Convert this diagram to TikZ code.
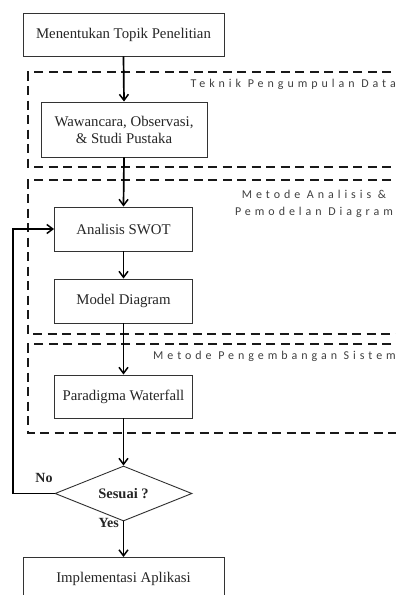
\documentclass[tikz,border=0pt]{standalone}
\usepackage{fontspec}
\setmainfont{Liberation Serif}
\newfontfamily\lblfont[LetterSpace=33]{Carlito}
\usetikzlibrary{arrows.meta,shapes.geometric}
\begin{document}
\begin{tikzpicture}[x=1pt,y=-1pt,
  box/.style={draw=black!80,line width=0.9pt,fill=white,minimum width=138pt,minimum height=44pt,inner sep=1pt,font=\fontsize{14.8}{17}\selectfont,align=center,text=black!85},
  arr/.style={line width=1.7pt,-{Straight Barb[length=6pt,width=9pt,line width=1.5pt]}},
  grp/.style={dash pattern=on 9pt off 5.5pt,line width=1.8pt,black!90},
  grplbl/.style={font=\lblfont\fontsize{12}{17}\selectfont,text=black!75,inner sep=0pt},
  lbl/.style={font=\bfseries\fontsize{14}{16}\selectfont,inner sep=0pt,text=black!85}]
\useasboundingbox (0,0) rectangle (396,595);
\fill[white] (0,0) rectangle (396,595);
% group frames
\draw[grp] (420,72) -- (28,72) -- (28,167) -- (420,167);
\draw[grp] (420,180) -- (28,180) -- (28,334) -- (420,334);
\draw[grp] (420,344) -- (28,344) -- (28,433) -- (420,433);
\node[grplbl,anchor=east] (g1) at (396,84) {Teknik Pengumpulan Data};
\node[grplbl,align=center] (g2) at (314,203.5) {Metode Analisis \&\\Pemodelan Diagram};
\node[grplbl,anchor=east] (g3) at (396,356) {Metode Pengembangan Sistem};
% nodes
\node[box,minimum width=201pt,minimum height=43pt] (b1) at (123.5,34.5) {Menentukan Topik Penelitian};
\node[box,minimum width=166pt,minimum height=55pt,align=center] (b2) at (124,129.5) {Wawancara, Observasi,\\\& Studi Pustaka};
\node[box] (b3) at (123.5,229) {Analisis SWOT};
\node[box] (b4) at (123.5,301) {Model Diagram};
\node[box,minimum height=43pt] (b5) at (123.5,396.5) {Paradigma Waterfall};
\node[draw=black!80,line width=0.9pt,diamond,aspect=2.5,minimum width=137pt,minimum height=55pt,inner sep=0pt,font=\bfseries\fontsize{14.5}{16}\selectfont,text=black!85] (d) at (123.5,493.5) {Sesuai ?};
\draw[black!80,line width=0.9pt,fill=white] (23,605) -- (23,557) -- (224,557) -- (224,605);
\node[inner sep=0pt,font=\fontsize{14.8}{17}\selectfont,text=black!85] (b6) at (123.5,579) {Implementasi Aplikasi};
\coordinate (b6n) at (123.5,557);
% connectors
\draw[arr] (b1.south) -- (b2.north);
\draw[arr] (b2.south) -- (b3.north);
\draw[arr] (b3.south) -- (b4.north);
\draw[arr] (b4.south) -- (b5.north);
\draw[arr] (b5.south) -- (d.north);
\draw[arr] (d.south) -- (b6n);
\draw[arr] (d.west) -- (13,493.5) |- (b3.west);
\node[lbl] (no) at (44,478) {No};
\node[lbl,anchor=east] (yes) at (119,523) {Yes};
\end{tikzpicture}
\end{document}
